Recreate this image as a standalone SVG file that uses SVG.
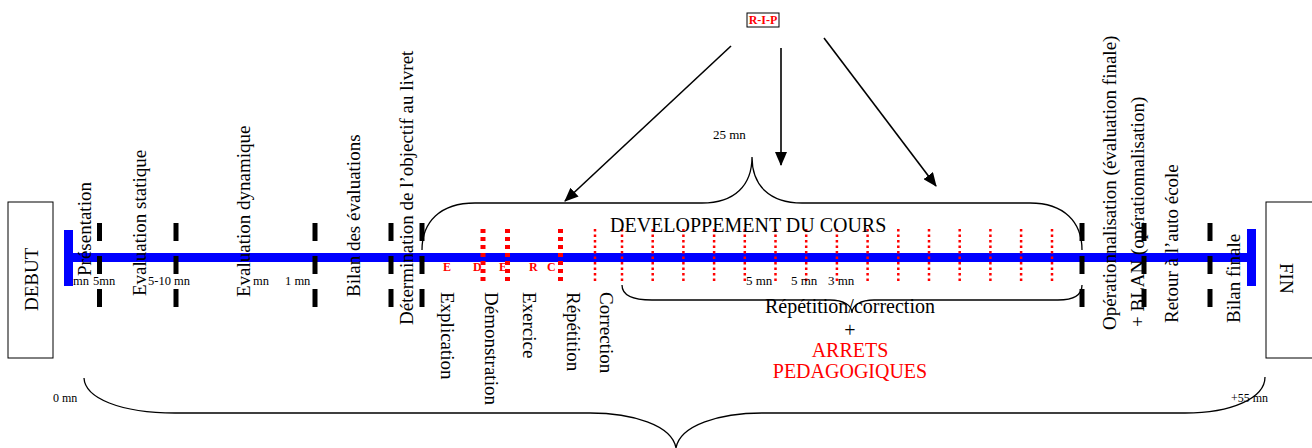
<svg xmlns="http://www.w3.org/2000/svg" width="1312" height="448" viewBox="0 0 1312 448">
<style>
text{font-family:"Liberation Serif","Times New Roman",serif;fill:#000}
.lbl{font-size:19px}
.big{font-size:20px}
.sm{font-size:12.5px}
.red{fill:#ff0000}
.bold{font-weight:bold}
.tick{stroke:#000;stroke-width:5;stroke-dasharray:18 15}
.rdot{stroke:#ff0000;stroke-width:5;stroke-dasharray:4 4}
.tdot{stroke:#ff0000;stroke-width:2.5;stroke-dasharray:2.5 3}
.brace{fill:none;stroke:#000;stroke-width:1.3}
.arr{stroke:#000;stroke-width:1.6;fill:none}
.box{fill:#fff;stroke:#000;stroke-width:1}
</style>
<defs>
<marker id="ah" markerUnits="userSpaceOnUse" markerWidth="14" markerHeight="12" refX="13" refY="6" orient="auto">
<path d="M0,0 L14,6 L0,12 z" fill="#000"/>
</marker>
</defs>
<rect width="1312" height="448" fill="#fff"/>

<g id="debut"><rect class="box" x="8" y="202" width="45" height="156"/><text class="lbl" font-size="19" transform="translate(38,311) rotate(-90)">DEBUT</text></g>
<g id="fin"><rect class="box" x="1266" y="202" width="50" height="156"/><text class="lbl" transform="translate(1280,263) rotate(90)">FIN</text></g>

<g id="axis">
<rect x="64" y="253" width="1192" height="9" fill="#0000ff"/>
<rect x="64" y="230" width="9" height="56" fill="#0000ff"/>
<rect x="1247" y="229" width="9" height="57" fill="#0000ff"/>
</g>

<g id="ticks">
<line class="tick" x1="99.5" y1="223" x2="99.5" y2="308"/>
<line class="tick" x1="176" y1="223" x2="176" y2="308"/>
<line class="tick" x1="315" y1="223" x2="315" y2="308"/>
<line class="tick" x1="391" y1="223" x2="391" y2="308"/>
<line class="tick" x1="422" y1="223" x2="422" y2="308"/>
<line class="tick" x1="1082" y1="223" x2="1082" y2="308"/>
<line class="tick" x1="1144" y1="223" x2="1144" y2="308"/>
<line class="tick" x1="1210" y1="223" x2="1210" y2="308"/>
</g>

<g id="red-dots">
<line class="rdot" x1="483" y1="229" x2="483" y2="282"/>
<line class="rdot" x1="507.5" y1="229" x2="507.5" y2="282"/>
<line class="rdot" x1="560.5" y1="229" x2="560.5" y2="282"/>
<line class="tdot" x1="595" y1="229" x2="595" y2="284"/>
<line class="tdot" x1="622" y1="229" x2="622" y2="284"/>
<line class="tdot" x1="652.7" y1="229" x2="652.7" y2="284"/>
<line class="tdot" x1="683.4" y1="229" x2="683.4" y2="284"/>
<line class="tdot" x1="714.1" y1="229" x2="714.1" y2="284"/>
<line class="tdot" x1="744.8" y1="229" x2="744.8" y2="284"/>
<line class="tdot" x1="775.5" y1="229" x2="775.5" y2="284"/>
<line class="tdot" x1="806.2" y1="229" x2="806.2" y2="284"/>
<line class="tdot" x1="836.9" y1="229" x2="836.9" y2="284"/>
<line class="tdot" x1="867.6" y1="229" x2="867.6" y2="284"/>
<line class="tdot" x1="898.3" y1="229" x2="898.3" y2="284"/>
<line class="tdot" x1="929" y1="229" x2="929" y2="284"/>
<line class="tdot" x1="959.7" y1="229" x2="959.7" y2="284"/>
<line class="tdot" x1="990.4" y1="229" x2="990.4" y2="284"/>
<line class="tdot" x1="1021.1" y1="229" x2="1021.1" y2="284"/>
<line class="tdot" x1="1052" y1="229" x2="1052" y2="284"/>
</g>

<g id="connectors">
<path class="brace" d="M422,250 C422,222 440,203 475,203 L702,203 C735,203 752,185 752,157 C752,185 769,203 802,203 L1030,203 C1064,203 1082,222 1082,250"/>
<path class="brace" d="M622,285 C622,295 632,300 652,300 L830,300 C843,300 852,305 852,313 C852,305 861,300 874,300 L1058,300 C1074,300 1082,295 1082,285"/>
<path class="brace" d="M84,378 C85,398 120,413 175,413 L590,413 C632,413 672,425 676,448 C680,425 720,413 762,413 L1185,413 C1232,413 1265,398 1265,377"/>
<line class="arr" x1="731" y1="46" x2="565" y2="201" marker-end="url(#ah)"/>
<line class="arr" x1="781" y1="48" x2="781" y2="165" marker-end="url(#ah)"/>
<line class="arr" x1="824" y1="38" x2="936" y2="186" marker-end="url(#ah)"/>
</g>

<g id="rip"><rect class="box" x="747" y="13" width="32" height="14"/><text class="red bold" font-size="12" x="763" y="24" text-anchor="middle">R-I-P</text></g>
<text id="t25" font-size="13" x="713" y="139">25 mn</text>

<g id="labels-left">
<text class="lbl" transform="translate(91,276) rotate(-90)">Présentation</text>
<text class="lbl" transform="translate(146,296) rotate(-90)">Evaluation statique</text>
<text class="lbl" transform="translate(250,297) rotate(-90)">Evaluation dynamique</text>
<text class="lbl" transform="translate(360,297) rotate(-90)">Bilan des évaluations</text>
<text class="lbl" transform="translate(413,325) rotate(-90)">Détermination de l’objectif au livret</text>
</g>

<g id="labels-steps">
<text class="lbl" transform="translate(441,292) rotate(90)">Explication</text>
<text class="lbl" transform="translate(484.5,292) rotate(90)">Démonstration</text>
<text class="lbl" transform="translate(522.5,292) rotate(90)">Exercice</text>
<text class="lbl" transform="translate(567,292) rotate(90)">Répétition</text>
<text class="lbl" transform="translate(599.5,292) rotate(90)">Correction</text>
</g>

<g id="labels-right">
<text class="lbl" transform="translate(1116,330) rotate(-90)">Opérationnalisation (évaluation finale)</text>
<text class="lbl" transform="translate(1144,327) rotate(-90)">+ BLAN (opérationnalisation)</text>
<text class="lbl" transform="translate(1178,323) rotate(-90)">Retour à l’auto école</text>
<text class="lbl" transform="translate(1240,323) rotate(-90)">Bilan finale</text>
</g>

<g id="times">
<text class="sm" x="73" y="285">mn</text>
<text class="sm" x="93" y="285">5mn</text>
<text class="sm" x="148" y="285">5-10 mn</text>
<text class="sm" x="253" y="285">mn</text>
<text class="sm" x="285" y="285">1 mn</text>
<text font-size="13" x="746" y="285">5 mn</text>
<text font-size="13" x="791" y="285">5 mn</text>
<text font-size="13" x="828" y="285">3 mn</text>
<text font-size="12" x="53" y="402">0 mn</text>
<text font-size="12" x="1268" y="402" text-anchor="end">+55 mn</text>
</g>

<g id="edrc" class="red bold" font-size="12">
<text class="red bold" x="443" y="271">E</text>
<text class="red bold" x="473" y="271">D</text>
<text class="red bold" x="499" y="271">E</text>
<text class="red bold" x="529" y="271">R</text>
<text class="red bold" x="547" y="271">C</text>
</g>

<g id="dev">
<text class="big" x="610" y="232">DEVELOPPEMENT DU COURS</text>
</g>
<g id="rep">
<text class="big" x="850" y="313" text-anchor="middle">Répétition/correction</text>
<text class="big" x="850" y="337" text-anchor="middle">+</text>
<text class="big red" x="850" y="357" text-anchor="middle">ARRETS</text>
<text class="big red" x="850" y="378" text-anchor="middle">PEDAGOGIQUES</text>
</g>
</svg>
